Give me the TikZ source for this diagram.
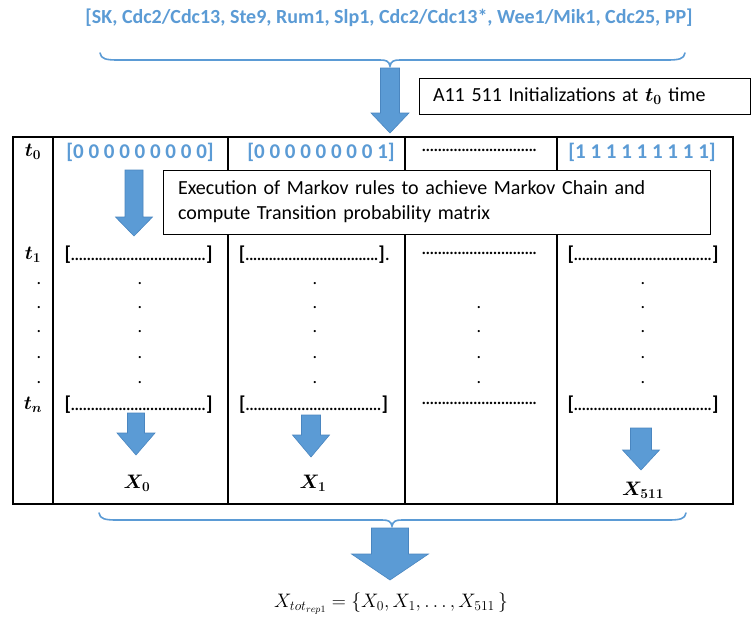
\RequirePackage{fix-cm}
\documentclass[tikz,border=0pt]{standalone}
\usepackage{fontspec}
\setmainfont{Carlito}
\usepackage{amsmath,bm}
\definecolor{accent}{HTML}{5B9BD5}
\definecolor{accentdark}{HTML}{4A86C0}
\newcommand{\dotrun}[1]{\makebox[#1]{\xleaders\hbox to 3.9pt{\hss.\hss}\hfill}}
\newcommand{\brow}[1]{\textbf{[}\dotrun{#1}\textbf{]}}
\newcommand{\dnarrow}[6]{%
  \filldraw[blockarrow] (#1-#3,#2) -- (#1+#3,#2) -- (#1+#3,#4) -- (#1+#5,#4)
    -- (#1,#6) -- (#1-#5,#4) -- (#1-#3,#4) -- cycle;}
\newcommand{\hbrace}[6]{% x1 x2 xm yflat ycurl ytip
  \draw[bracestyle] (#1,#5) .. controls (#1+1,#4-1) and (#1+6,#4) .. (#1+18,#4)
    -- (#3-10,#4) .. controls (#3-4,#4) and (#3-1,#4+1) .. (#3,#6)
    .. controls (#3+1,#4+1) and (#3+4,#4) .. (#3+10,#4)
    -- (#2-18,#4) .. controls (#2-6,#4) and (#2-1,#4-1) .. (#2,#5);}
\begin{document}
\begin{tikzpicture}[x=1pt,y=-1pt,
  lbl/.style={inner sep=0pt, font=\fontsize{20}{24}\selectfont},
  bluebold/.style={inner sep=0pt, text=accent, font=\fontsize{20}{24}\selectfont\bfseries},
  vecbold/.style={inner sep=0pt, text=accent, font=\fontsize{21}{24}\selectfont\bfseries},
  mathlbl/.style={inner sep=0pt, font=\fontsize{19.5}{22}\selectfont},
  dotlbl/.style={inner sep=0pt, anchor=base, font=\fontsize{18}{20}\selectfont},
  blockarrow/.style={fill=accent, draw=accentdark, line width=0.6pt},
  bracestyle/.style={draw=accent, line width=1.6pt, line cap=round},
  tbl/.style={line width=1.1pt},
  textbox/.style={draw, fill=white, line width=0.9pt, align=left, inner ysep=0pt}]
\useasboundingbox (0,0) rectangle (755,621);
\fill[white] (0,0) rectangle (755,621);

% title and top brace
\node[bluebold] (title) at (389,18) {[SK, Cdc2/Cdc13, Ste9, Rum1, Slp1, Cdc2/Cdc13*, Wee1/Mik1, Cdc25, PP]};
\hbrace{100}{685}{390}{60}{53}{66}
\dnarrow{390}{68}{9.5}{113}{19}{133}
\node[textbox, lbl, minimum width=331pt, minimum height=36pt, text width=303pt, inner xsep=14pt] (init) at (584.5,96)
  {A11 511 Initializations at $\bm{t_0}$ time};

% table
\draw[tbl] (13,137) rectangle (733,504);
\foreach \x in {53,228,405,557} \draw[tbl] (\x,137) -- (\x,504);

% t0 row
\node[mathlbl] (t0) at (33,152) {$\bm{t_0}$};
\node[vecbold] (v0) at (140,152) {[0 0 0 0 0 0 0 0 0]};
\node[vecbold] (v1) at (321,152) {[0 0 0 0 0 0 0 0 1]};
\node[lbl] (v2) at (479.5,150) {\dotrun{115pt}};
\node[vecbold] (v3) at (642,152) {[1 1 1 1 1 1 1 1 1]};

% execution box and first arrow
\dnarrow{134}{170}{9}{217}{18.5}{236}
\node[textbox, font=\fontsize{20}{25}\selectfont, minimum width=547pt, minimum height=64pt, text width=517pt, inner xsep=15pt] (exec) at (436.5,202)
  {Execution of Markov rules to achieve Markov Chain and\\compute Transition probability matrix};

% t1 row
\node[mathlbl] (t1) at (33,255) {$\bm{t_1}$};
\node[lbl] (r1a) at (138.5,255) {\brow{135pt}};
\node[lbl] (r1b) at (314.5,255) {\brow{133pt}.};
\node[lbl] (r1c) at (479.5,253) {\dotrun{115pt}};
\node[lbl] (r1d) at (643,255) {\brow{138pt}};

% vertical dots
\foreach \y [count=\i] in {282,306,330,356,381} {
  \node[dotlbl] (c0d\i) at (39,\y+2) {.};
  \node[dotlbl] (c1d\i) at (140,\y+2) {.};
  \node[dotlbl] (c2d\i) at (315,\y+2) {.};
  \node[dotlbl] (c4d\i) at (643,\y+2) {.};
}
\foreach \y [count=\i] in {306,330,356,381} {
  \node[dotlbl] (c3d\i) at (479,\y+2) {.};
}

% tn row
\node[mathlbl] (tn) at (33,405) {$\bm{t_n}$};
\node[lbl] (rna) at (138.5,405) {\brow{135pt}};
\node[lbl] (rnb) at (313.5,405) {\brow{136pt}};
\node[lbl] (rnc) at (479.5,403) {\dotrun{115pt}};
\node[lbl] (rnd) at (643,405) {\brow{138pt}};

% result arrows
\dnarrow{136}{413}{8.5}{433}{19}{455}
\dnarrow{311}{415}{9.5}{435}{18.5}{457}
\dnarrow{641}{428}{10.5}{450}{18.5}{470}
\node[mathlbl] (x0) at (137,483) {$\bm{X_0}$};
\node[mathlbl] (x1) at (313,483) {$\bm{X_1}$};
\node[mathlbl] (x511) at (643,490) {$\bm{X_{511}}$};

% bottom brace, arrow and formula
\hbrace{99}{686}{392}{520}{513}{526}
\dnarrow{390}{528}{18.5}{554}{38.5}{580}
\node[mathlbl] (total) at (391,604) {$X_{tot_{rep1}} = \{X_0, X_1, \dots, X_{511}\,\}$};
\end{tikzpicture}
\end{document}
